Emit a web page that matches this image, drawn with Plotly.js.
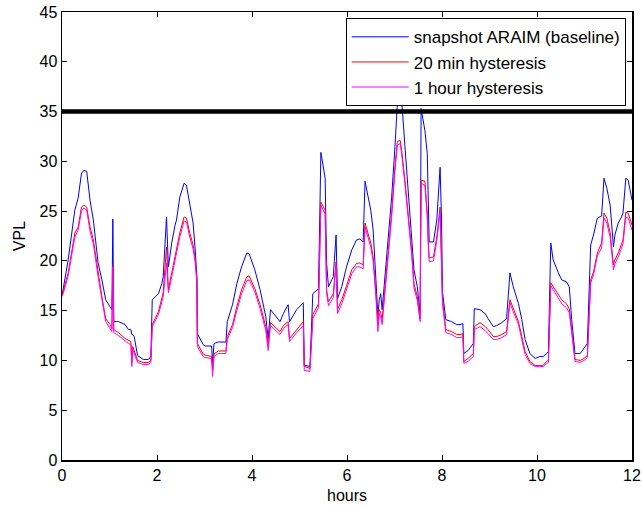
<!DOCTYPE html>
<html>
<head>
<meta charset="utf-8">
<script src="https://cdn.plot.ly/plotly-3.0.1.min.js"></script>
<style>html,body{margin:0;padding:0;background:#fff;}#chart{width:642px;height:506px;}</style>
</head>
<body>
<div id="chart"></div>
<script>
// time in hours
var hours = [0.00,0.03,0.13,0.27,0.34,0.41,0.46,0.52,0.59,0.66,0.76,0.84,0.92,1.01,1.05,1.07,1.09,1.19,1.33,1.40,1.45,1.47,1.49,1.52,1.59,1.71,1.82,1.87,1.90,2.03,2.10,2.13,2.20,2.24,2.31,2.38,2.41,2.48,2.57,2.62,2.69,2.76,2.80,2.84,2.85,2.97,3.01,3.15,3.17,3.20,3.29,3.45,3.48,3.59,3.68,3.78,3.89,3.94,4.06,4.17,4.29,4.34,4.39,4.48,4.59,4.66,4.76,4.79,4.94,5.08,5.10,5.22,5.28,5.40,5.45,5.54,5.57,5.61,5.71,5.77,5.80,5.89,5.99,6.10,6.20,6.27,6.34,6.38,6.50,6.55,6.61,6.65,6.68,6.71,6.74,6.84,6.94,7.01,7.06,7.12,7.15,7.22,7.29,7.36,7.41,7.48,7.54,7.56,7.64,7.69,7.71,7.73,7.82,7.89,7.96,7.99,8.01,8.08,8.20,8.31,8.38,8.44,8.46,8.55,8.66,8.68,8.80,8.91,8.97,9.08,9.15,9.26,9.36,9.43,9.50,9.61,9.68,9.75,9.85,9.96,10.06,10.13,10.20,10.24,10.29,10.34,10.45,10.52,10.62,10.68,10.73,10.76,10.80,10.91,10.99,11.06,11.13,11.19,11.27,11.36,11.41,11.47,11.54,11.61,11.64,11.71,11.78,11.81,11.87,11.92,12.00];

var vplBaseline = [16.5,17.4,20.1,25.1,26.3,28.8,29.1,29.0,26.1,24.1,19.8,18.1,16.1,15.4,15.1,24.2,13.9,13.9,13.6,13.1,13.1,12.6,12.6,12.4,10.5,10.1,10.1,10.4,16.1,16.7,17.7,18.4,24.4,19.4,21.8,23.6,24.1,26.4,27.8,27.6,25.8,23.8,21.4,18.4,12.7,11.6,11.45,11.45,9.7,11.7,11.85,11.85,13.9,15.6,17.7,19.4,20.8,20.7,19.1,17.1,14.4,12.2,15.1,14.6,13.9,14.7,15.6,13.9,15.1,15.8,9.5,9.4,16.7,17.2,30.9,28.3,19.8,17.4,18.4,22.6,16.2,17.4,19.4,21.1,22.1,22.2,21.9,28.0,25.1,23.1,18.1,14.6,16.1,16.7,15.1,20.8,26.4,31.5,35.8,37.5,36.2,31.5,27.1,23.1,19.1,17.4,14.7,35.3,33.1,30.8,24.8,21.9,21.9,24.1,29.4,24.1,16.9,14.1,13.9,13.6,13.6,13.7,10.7,11.0,11.7,15.2,15.1,14.7,14.2,13.4,13.5,13.8,14.2,18.8,17.4,15.7,14.1,12.1,10.7,10.2,10.4,10.4,10.7,10.9,21.8,20.1,18.8,18.1,17.9,17.4,14.1,12.7,10.7,10.7,11.2,11.7,21.6,22.6,24.3,24.5,28.3,27.3,25.6,21.4,22.6,23.8,24.4,24.8,28.3,28.1,26.1];

var vpl20min = [16.5,17.0,18.8,22.8,23.4,25.4,25.6,25.4,23.4,22.1,18.8,16.4,14.2,13.6,13.2,19.6,13.1,12.8,12.2,12.0,11.9,9.8,11.4,11.0,10.0,9.8,9.8,10.0,13.6,14.9,16.2,16.8,21.4,17.1,18.8,20.4,21.3,22.8,24.4,24.3,22.8,21.6,20.4,18.1,11.7,10.65,10.55,10.4,9.0,10.65,10.95,10.95,12.4,13.6,15.4,17.1,18.4,18.5,17.2,15.6,13.4,11.55,13.8,13.4,12.9,13.5,13.9,12.2,13.1,13.9,9.4,9.2,14.6,15.7,25.9,25.1,17.1,15.9,16.7,19.9,15.1,16.1,17.5,19.1,19.75,19.8,19.6,23.8,21.8,20.4,16.7,13.7,15.1,14.8,14.1,19.4,24.8,29.5,32.0,32.1,31.1,28.1,24.8,21.1,17.7,16.4,14.2,28.1,28.0,24.8,22.1,20.3,20.4,22.4,25.4,20.8,16.1,13.1,12.9,12.6,12.6,12.7,9.9,10.2,10.7,13.4,13.8,13.4,13.1,12.4,12.4,12.6,12.9,16.1,15.2,13.9,12.4,10.9,9.9,9.5,9.5,9.5,9.9,10.0,17.8,17.4,16.6,16.1,15.7,15.2,13.1,11.7,10.1,10.0,10.2,10.5,18.1,18.9,20.8,21.8,24.8,24.3,22.8,19.6,20.1,20.8,21.8,22.1,24.9,24.8,23.6];

var vpl1hour = [16.4,16.8,18.5,22.4,23.1,25.0,25.3,25.1,23.0,21.7,18.4,16.0,13.9,13.2,12.9,19.4,12.8,12.5,11.9,11.7,11.6,9.4,11.1,10.7,9.8,9.6,9.6,9.8,13.4,14.6,15.8,16.4,19.8,16.8,18.4,20.0,20.9,22.4,24.0,23.9,22.4,21.2,20.0,17.8,11.4,10.4,10.3,10.2,8.4,10.4,10.7,10.7,12.1,13.3,15.0,16.7,18.0,18.1,16.9,15.2,13.0,11.0,13.5,13.1,12.6,13.2,13.6,11.9,12.8,13.5,9.0,8.9,14.2,15.3,25.6,24.7,16.8,15.5,16.3,19.5,14.7,15.7,17.1,18.7,19.4,19.4,19.2,23.4,21.4,20.0,16.3,12.9,14.7,14.4,13.6,19.0,24.4,29.1,31.6,31.8,30.8,27.7,24.4,20.7,17.3,16.0,13.9,27.8,27.6,24.4,21.7,19.9,20.0,22.0,25.0,20.4,15.7,12.8,12.6,12.3,12.3,12.4,9.7,9.9,10.4,13.1,13.4,13.0,12.7,12.1,12.1,12.3,12.6,15.8,14.9,13.6,12.1,10.6,9.7,9.4,9.4,9.4,9.7,9.8,17.5,17.1,16.2,15.7,15.3,14.8,12.8,11.4,9.9,9.8,10.0,10.3,17.8,18.6,20.5,21.3,24.3,23.8,22.4,19.1,19.7,20.4,21.4,21.7,24.4,24.3,23.1];

var alertHours = [0, 12];
var alertLimit = [35, 35];

var seriesNames = ['snapshot ARAIM (baseline)', '20 min hysteresis', '1 hour hysteresis'];
var xTicks = [0, 2, 4, 6, 8, 10, 12];
var yTicks = [0, 5, 10, 15, 20, 25, 30, 35, 40, 45];

var traces = [
  {x: hours, y: vplBaseline, name: seriesNames[0], mode: 'lines', line: {color: '#0000ff', width: 1}},
  {x: hours, y: vpl20min, name: seriesNames[1], mode: 'lines', line: {color: '#ff0000', width: 1}},
  {x: hours, y: vpl1hour, name: seriesNames[2], mode: 'lines', line: {color: '#ff00ff', width: 1}},
  {x: alertHours, y: alertLimit, mode: 'lines', showlegend: false, line: {color: '#000000', width: 4.5}}
];

var fontFam = 'Liberation Sans, Arial, sans-serif';
var axisCommon = {
  showline: true, linecolor: '#000', linewidth: 1.5, mirror: 'ticks',
  ticks: 'inside', ticklen: 5, tickcolor: '#000', tickwidth: 1,
  showgrid: false, zeroline: false, fixedrange: true,
  tickfont: {family: fontFam, size: 16, color: '#000'}
};

var layout = {
  width: 642, height: 506,
  margin: {l: 62, r: 10, t: 12, b: 46},
  paper_bgcolor: '#fff', plot_bgcolor: '#fff',
  font: {family: fontFam, size: 16, color: '#000'},
  xaxis: Object.assign({}, axisCommon, {
    range: [0, 12], tickvals: xTicks, ticktext: xTicks.map(String),
    title: {text: 'hours', font: {family: fontFam, size: 16, color: '#000'}, standoff: 7}
  }),
  yaxis: Object.assign({}, axisCommon, {
    range: [0, 45], tickvals: yTicks, ticktext: yTicks.map(String),
    title: {text: 'VPL', font: {family: fontFam, size: 16, color: '#000'}, standoff: 10}
  }),
  legend: {
    x: 0.989, y: 0.986, xanchor: 'right', yanchor: 'top',
    bgcolor: '#fff', bordercolor: '#000', borderwidth: 1,
    font: {family: fontFam, size: 17, color: '#000'},
    itemwidth: 57
  },
  showlegend: true
};

Plotly.newPlot('chart', traces, layout, {displayModeBar: false, staticPlot: true});
</script>
</body>
</html>
